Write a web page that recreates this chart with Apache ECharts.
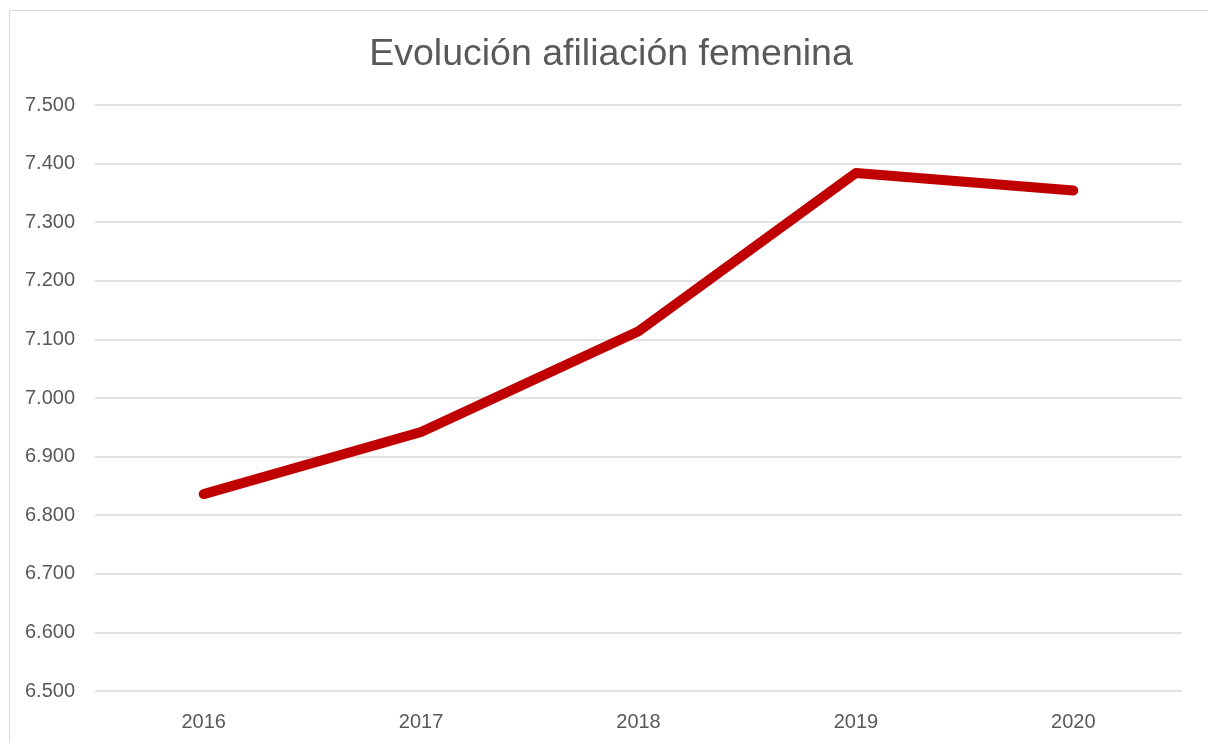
<!DOCTYPE html>
<html>
<head>
<meta charset="utf-8">
<script src="https://cdn.jsdelivr.net/npm/echarts@6/dist/echarts.min.js"></script>
<style>
html,body{margin:0;padding:0;background:#fff;}
#chart{width:1208px;height:743px;}
</style>
</head>
<body>
<div id="chart"></div>
<script>
const titleText = 'Evolución afiliación femenina';
const years = ['2016', '2017', '2018', '2019', '2020'];
const afiliacion = [6836, 6942, 7114, 7384, 7354];
const yMin = 6500, yMax = 7500, yStep = 100;

const chart = echarts.init(document.getElementById('chart'), null, {renderer: 'canvas'});
const labelFont = "'Liberation Sans', Arial, sans-serif";
chart.setOption({
  animation: false,
  backgroundColor: '#ffffff',
  graphic: [{
    type: 'rect', silent: true,
    shape: {x: 9.5, y: 10.5, width: 1400, height: 900},
    style: {fill: 'none', stroke: '#d9d9d9', lineWidth: 1}
  }],
  title: {
    text: titleText,
    left: 606, top: 31, textAlign: 'center',
    textStyle: {fontFamily: "'Liberation Sans', Arial, sans-serif", fontSize: 37.5, fontWeight: 'normal', color: '#595959'}
  },
  grid: {left: 95, right: 26, top: 105, bottom: 52, containLabel: false},
  xAxis: {
    type: 'category', data: years, boundaryGap: true,
    axisLine: {show: false}, axisTick: {show: false},
    axisLabel: {margin: 21, fontFamily: labelFont, fontSize: 20, color: '#595959'}
  },
  yAxis: {
    type: 'value', min: yMin, max: yMax, interval: yStep,
    axisLine: {show: false}, axisTick: {show: false},
    splitLine: {lineStyle: {color: '#d9d9d9', width: 1.5}},
    axisLabel: {margin: 20, fontFamily: labelFont, fontSize: 20, color: '#595959',
      formatter: v => { const s = String(Math.round(v)); return s.slice(0, s.length - 3) + '.' + s.slice(-3); }}
  },
  series: [{
    type: 'line', data: afiliacion, symbol: 'none',
    lineStyle: {color: '#c00000', width: 10, cap: 'round', join: 'round'}
  }]
});
</script>
</body>
</html>
